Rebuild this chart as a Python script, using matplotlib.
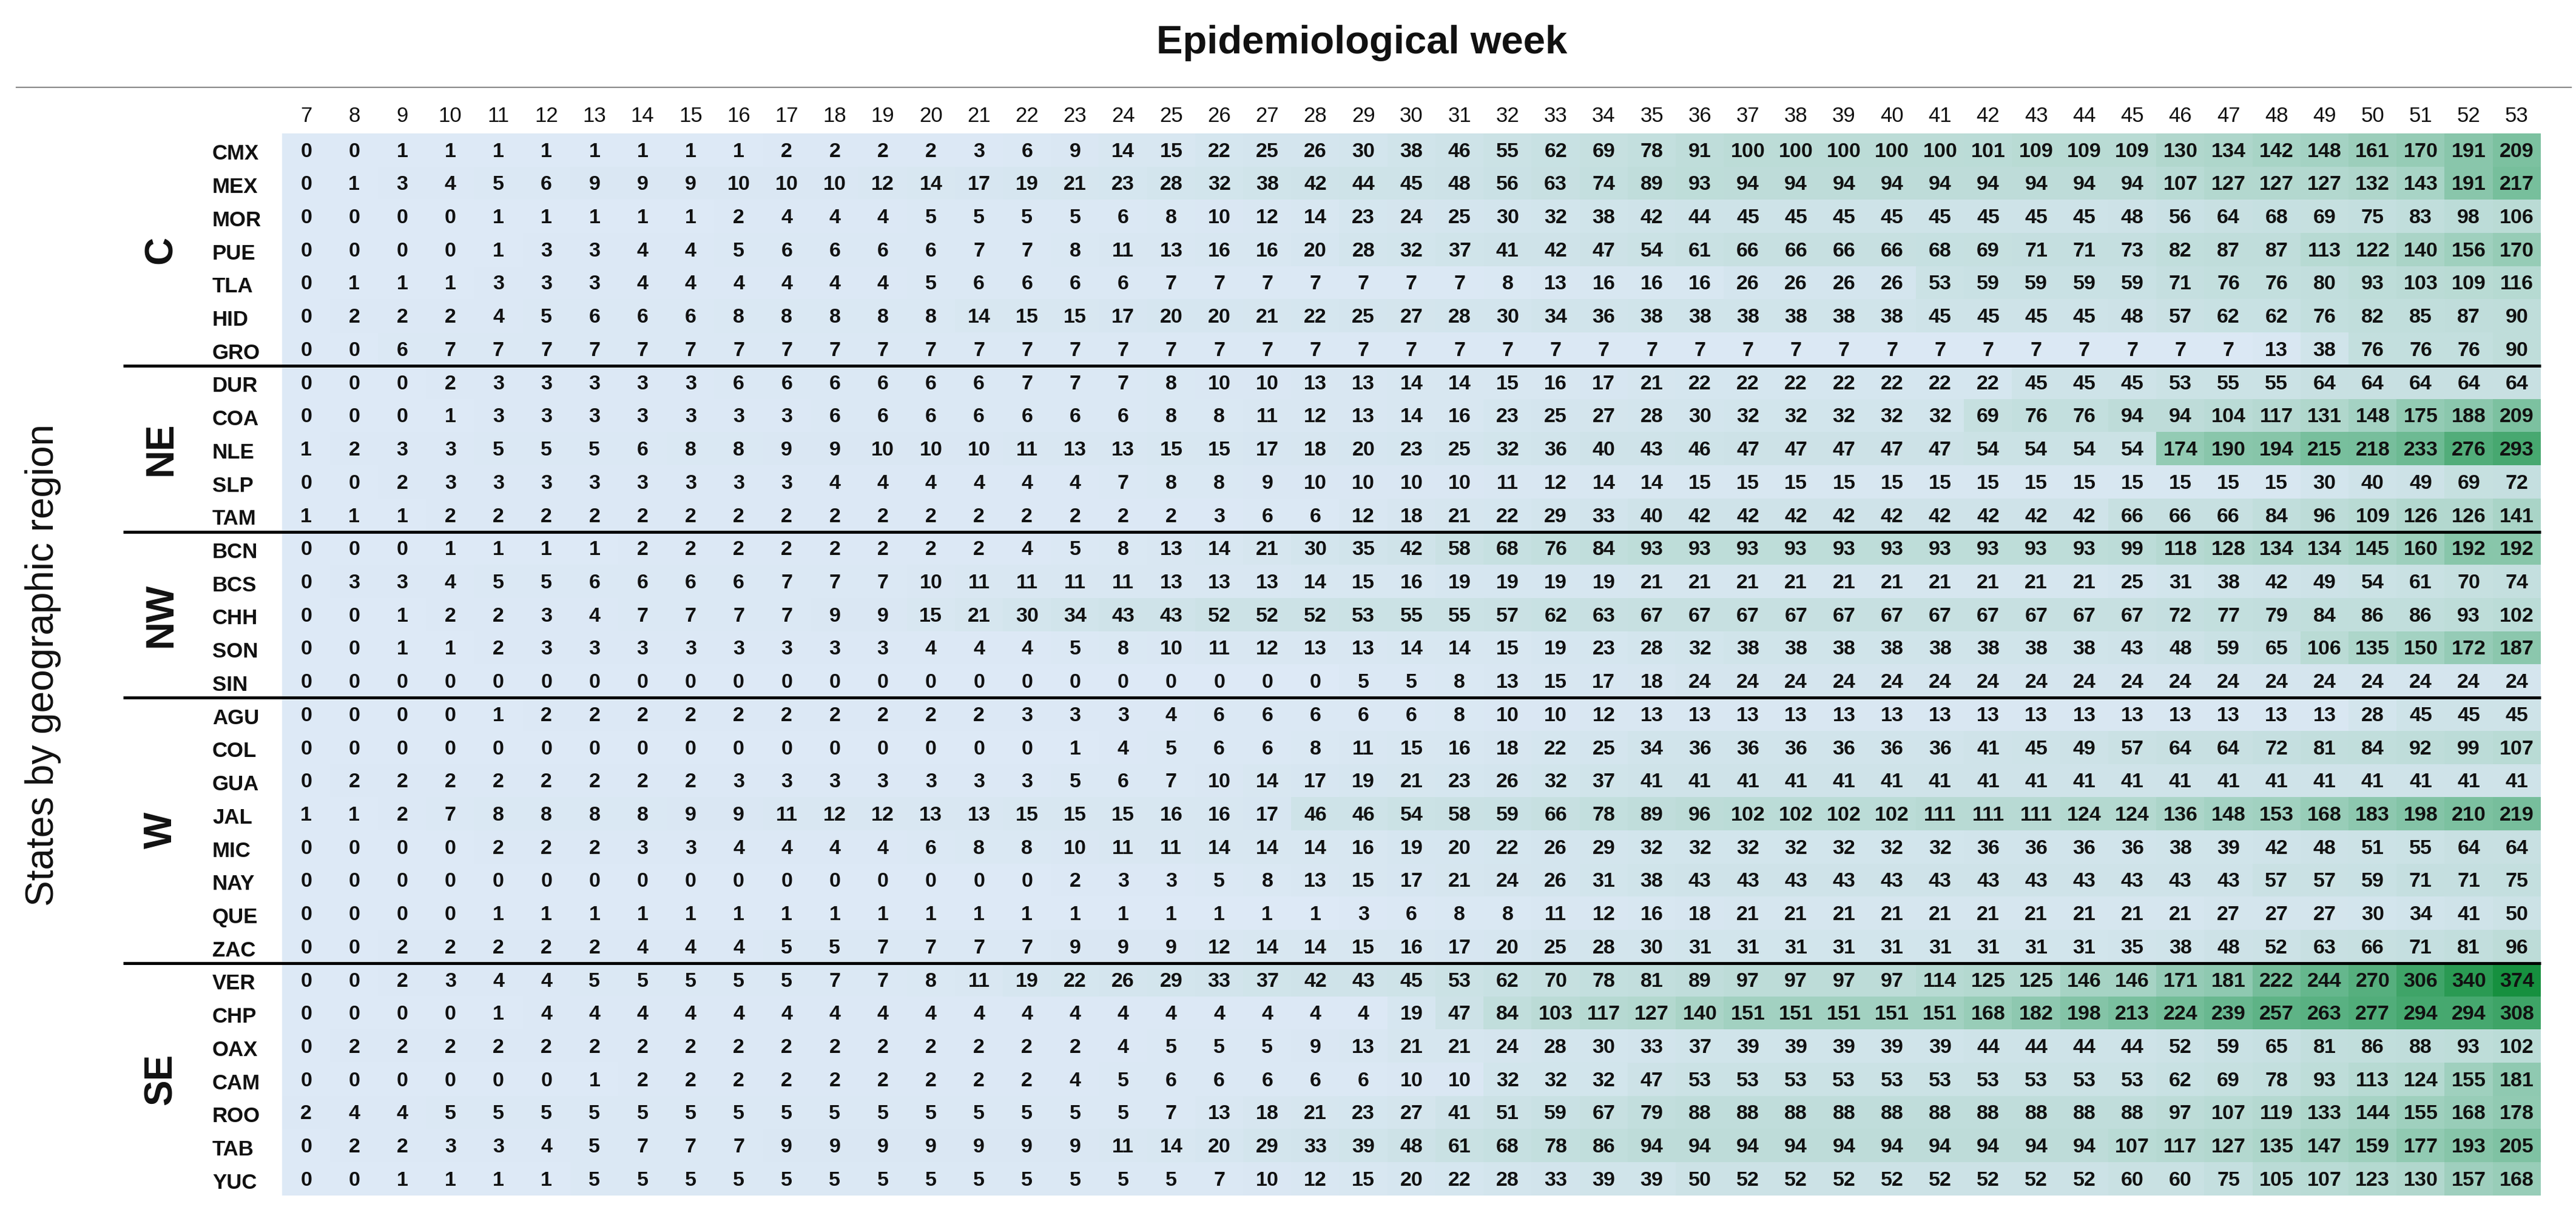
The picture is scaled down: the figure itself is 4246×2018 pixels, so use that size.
import matplotlib
matplotlib.use("Agg")
import matplotlib.pyplot as plt
import matplotlib.transforms as mtransforms
from matplotlib.colors import LinearSegmentedColormap
import numpy as np

plt.rcParams['font.family'] = ['Liberation Sans', 'DejaVu Sans']

weeks = list(range(7, 54))

# cumulative counts per state, weeks 7..53
CMX = [0, 0, 1, 1, 1, 1, 1, 1, 1, 1, 2, 2, 2, 2, 3, 6, 9, 14, 15, 22, 25, 26, 30, 38, 46, 55, 62, 69, 78, 91, 100, 100,
       100, 100, 100, 101, 109, 109, 109, 130, 134, 142, 148, 161, 170, 191, 209]
MEX = [0, 1, 3, 4, 5, 6, 9, 9, 9, 10, 10, 10, 12, 14, 17, 19, 21, 23, 28, 32, 38, 42, 44, 45, 48, 56, 63, 74, 89, 93, 94, 94,
       94, 94, 94, 94, 94, 94, 94, 107, 127, 127, 127, 132, 143, 191, 217]
MOR = [0, 0, 0, 0, 1, 1, 1, 1, 1, 2, 4, 4, 4, 5, 5, 5, 5, 6, 8, 10, 12, 14, 23, 24, 25, 30, 32, 38, 42, 44, 45, 45,
       45, 45, 45, 45, 45, 45, 48, 56, 64, 68, 69, 75, 83, 98, 106]
PUE = [0, 0, 0, 0, 1, 3, 3, 4, 4, 5, 6, 6, 6, 6, 7, 7, 8, 11, 13, 16, 16, 20, 28, 32, 37, 41, 42, 47, 54, 61, 66, 66,
       66, 66, 68, 69, 71, 71, 73, 82, 87, 87, 113, 122, 140, 156, 170]
TLA = [0, 1, 1, 1, 3, 3, 3, 4, 4, 4, 4, 4, 4, 5, 6, 6, 6, 6, 7, 7, 7, 7, 7, 7, 7, 8, 13, 16, 16, 16, 26, 26,
       26, 26, 53, 59, 59, 59, 59, 71, 76, 76, 80, 93, 103, 109, 116]
HID = [0, 2, 2, 2, 4, 5, 6, 6, 6, 8, 8, 8, 8, 8, 14, 15, 15, 17, 20, 20, 21, 22, 25, 27, 28, 30, 34, 36, 38, 38, 38, 38,
       38, 38, 45, 45, 45, 45, 48, 57, 62, 62, 76, 82, 85, 87, 90]
GRO = [0, 0, 6, 7, 7, 7, 7, 7, 7, 7, 7, 7, 7, 7, 7, 7, 7, 7, 7, 7, 7, 7, 7, 7, 7, 7, 7, 7, 7, 7, 7, 7,
       7, 7, 7, 7, 7, 7, 7, 7, 7, 13, 38, 76, 76, 76, 90]
DUR = [0, 0, 0, 2, 3, 3, 3, 3, 3, 6, 6, 6, 6, 6, 6, 7, 7, 7, 8, 10, 10, 13, 13, 14, 14, 15, 16, 17, 21, 22, 22, 22,
       22, 22, 22, 22, 45, 45, 45, 53, 55, 55, 64, 64, 64, 64, 64]
COA = [0, 0, 0, 1, 3, 3, 3, 3, 3, 3, 3, 6, 6, 6, 6, 6, 6, 6, 8, 8, 11, 12, 13, 14, 16, 23, 25, 27, 28, 30, 32, 32,
       32, 32, 32, 69, 76, 76, 94, 94, 104, 117, 131, 148, 175, 188, 209]
NLE = [1, 2, 3, 3, 5, 5, 5, 6, 8, 8, 9, 9, 10, 10, 10, 11, 13, 13, 15, 15, 17, 18, 20, 23, 25, 32, 36, 40, 43, 46, 47, 47,
       47, 47, 47, 54, 54, 54, 54, 174, 190, 194, 215, 218, 233, 276, 293]
SLP = [0, 0, 2, 3, 3, 3, 3, 3, 3, 3, 3, 4, 4, 4, 4, 4, 4, 7, 8, 8, 9, 10, 10, 10, 10, 11, 12, 14, 14, 15, 15, 15,
       15, 15, 15, 15, 15, 15, 15, 15, 15, 15, 30, 40, 49, 69, 72]
TAM = [1, 1, 1, 2, 2, 2, 2, 2, 2, 2, 2, 2, 2, 2, 2, 2, 2, 2, 2, 3, 6, 6, 12, 18, 21, 22, 29, 33, 40, 42, 42, 42,
       42, 42, 42, 42, 42, 42, 66, 66, 66, 84, 96, 109, 126, 126, 141]
BCN = [0, 0, 0, 1, 1, 1, 1, 2, 2, 2, 2, 2, 2, 2, 2, 4, 5, 8, 13, 14, 21, 30, 35, 42, 58, 68, 76, 84, 93, 93, 93, 93,
       93, 93, 93, 93, 93, 93, 99, 118, 128, 134, 134, 145, 160, 192, 192]
BCS = [0, 3, 3, 4, 5, 5, 6, 6, 6, 6, 7, 7, 7, 10, 11, 11, 11, 11, 13, 13, 13, 14, 15, 16, 19, 19, 19, 19, 21, 21, 21, 21,
       21, 21, 21, 21, 21, 21, 25, 31, 38, 42, 49, 54, 61, 70, 74]
CHH = [0, 0, 1, 2, 2, 3, 4, 7, 7, 7, 7, 9, 9, 15, 21, 30, 34, 43, 43, 52, 52, 52, 53, 55, 55, 57, 62, 63, 67, 67, 67, 67,
       67, 67, 67, 67, 67, 67, 67, 72, 77, 79, 84, 86, 86, 93, 102]
SON = [0, 0, 1, 1, 2, 3, 3, 3, 3, 3, 3, 3, 3, 4, 4, 4, 5, 8, 10, 11, 12, 13, 13, 14, 14, 15, 19, 23, 28, 32, 38, 38,
       38, 38, 38, 38, 38, 38, 43, 48, 59, 65, 106, 135, 150, 172, 187]
SIN = [0, 0, 0, 0, 0, 0, 0, 0, 0, 0, 0, 0, 0, 0, 0, 0, 0, 0, 0, 0, 0, 0, 5, 5, 8, 13, 15, 17, 18, 24, 24, 24,
       24, 24, 24, 24, 24, 24, 24, 24, 24, 24, 24, 24, 24, 24, 24]
AGU = [0, 0, 0, 0, 1, 2, 2, 2, 2, 2, 2, 2, 2, 2, 2, 3, 3, 3, 4, 6, 6, 6, 6, 6, 8, 10, 10, 12, 13, 13, 13, 13,
       13, 13, 13, 13, 13, 13, 13, 13, 13, 13, 13, 28, 45, 45, 45]
COL = [0, 0, 0, 0, 0, 0, 0, 0, 0, 0, 0, 0, 0, 0, 0, 0, 1, 4, 5, 6, 6, 8, 11, 15, 16, 18, 22, 25, 34, 36, 36, 36,
       36, 36, 36, 41, 45, 49, 57, 64, 64, 72, 81, 84, 92, 99, 107]
GUA = [0, 2, 2, 2, 2, 2, 2, 2, 2, 3, 3, 3, 3, 3, 3, 3, 5, 6, 7, 10, 14, 17, 19, 21, 23, 26, 32, 37, 41, 41, 41, 41,
       41, 41, 41, 41, 41, 41, 41, 41, 41, 41, 41, 41, 41, 41, 41]
JAL = [1, 1, 2, 7, 8, 8, 8, 8, 9, 9, 11, 12, 12, 13, 13, 15, 15, 15, 16, 16, 17, 46, 46, 54, 58, 59, 66, 78, 89, 96, 102, 102,
       102, 102, 111, 111, 111, 124, 124, 136, 148, 153, 168, 183, 198, 210, 219]
MIC = [0, 0, 0, 0, 2, 2, 2, 3, 3, 4, 4, 4, 4, 6, 8, 8, 10, 11, 11, 14, 14, 14, 16, 19, 20, 22, 26, 29, 32, 32, 32, 32,
       32, 32, 32, 36, 36, 36, 36, 38, 39, 42, 48, 51, 55, 64, 64]
NAY = [0, 0, 0, 0, 0, 0, 0, 0, 0, 0, 0, 0, 0, 0, 0, 0, 2, 3, 3, 5, 8, 13, 15, 17, 21, 24, 26, 31, 38, 43, 43, 43,
       43, 43, 43, 43, 43, 43, 43, 43, 43, 57, 57, 59, 71, 71, 75]
QUE = [0, 0, 0, 0, 1, 1, 1, 1, 1, 1, 1, 1, 1, 1, 1, 1, 1, 1, 1, 1, 1, 1, 3, 6, 8, 8, 11, 12, 16, 18, 21, 21,
       21, 21, 21, 21, 21, 21, 21, 21, 27, 27, 27, 30, 34, 41, 50]
ZAC = [0, 0, 2, 2, 2, 2, 2, 4, 4, 4, 5, 5, 7, 7, 7, 7, 9, 9, 9, 12, 14, 14, 15, 16, 17, 20, 25, 28, 30, 31, 31, 31,
       31, 31, 31, 31, 31, 31, 35, 38, 48, 52, 63, 66, 71, 81, 96]
VER = [0, 0, 2, 3, 4, 4, 5, 5, 5, 5, 5, 7, 7, 8, 11, 19, 22, 26, 29, 33, 37, 42, 43, 45, 53, 62, 70, 78, 81, 89, 97, 97,
       97, 97, 114, 125, 125, 146, 146, 171, 181, 222, 244, 270, 306, 340, 374]
CHP = [0, 0, 0, 0, 1, 4, 4, 4, 4, 4, 4, 4, 4, 4, 4, 4, 4, 4, 4, 4, 4, 4, 4, 19, 47, 84, 103, 117, 127, 140, 151, 151,
       151, 151, 151, 168, 182, 198, 213, 224, 239, 257, 263, 277, 294, 294, 308]
OAX = [0, 2, 2, 2, 2, 2, 2, 2, 2, 2, 2, 2, 2, 2, 2, 2, 2, 4, 5, 5, 5, 9, 13, 21, 21, 24, 28, 30, 33, 37, 39, 39,
       39, 39, 39, 44, 44, 44, 44, 52, 59, 65, 81, 86, 88, 93, 102]
CAM = [0, 0, 0, 0, 0, 0, 1, 2, 2, 2, 2, 2, 2, 2, 2, 2, 4, 5, 6, 6, 6, 6, 6, 10, 10, 32, 32, 32, 47, 53, 53, 53,
       53, 53, 53, 53, 53, 53, 53, 62, 69, 78, 93, 113, 124, 155, 181]
ROO = [2, 4, 4, 5, 5, 5, 5, 5, 5, 5, 5, 5, 5, 5, 5, 5, 5, 5, 7, 13, 18, 21, 23, 27, 41, 51, 59, 67, 79, 88, 88, 88,
       88, 88, 88, 88, 88, 88, 88, 97, 107, 119, 133, 144, 155, 168, 178]
TAB = [0, 2, 2, 3, 3, 4, 5, 7, 7, 7, 9, 9, 9, 9, 9, 9, 9, 11, 14, 20, 29, 33, 39, 48, 61, 68, 78, 86, 94, 94, 94, 94,
       94, 94, 94, 94, 94, 94, 107, 117, 127, 135, 147, 159, 177, 193, 205]
YUC = [0, 0, 1, 1, 1, 1, 5, 5, 5, 5, 5, 5, 5, 5, 5, 5, 5, 5, 5, 7, 10, 12, 15, 20, 22, 28, 33, 39, 39, 50, 52, 52,
       52, 52, 52, 52, 52, 52, 60, 60, 75, 105, 107, 123, 130, 157, 168]

regions = ['C', 'NE', 'NW', 'W', 'SE']
region_states = [
    ['CMX', 'MEX', 'MOR', 'PUE', 'TLA', 'HID', 'GRO'],
    ['DUR', 'COA', 'NLE', 'SLP', 'TAM'],
    ['BCN', 'BCS', 'CHH', 'SON', 'SIN'],
    ['AGU', 'COL', 'GUA', 'JAL', 'MIC', 'NAY', 'QUE', 'ZAC'],
    ['VER', 'CHP', 'OAX', 'CAM', 'ROO', 'TAB', 'YUC'],
]
rows = {'CMX': CMX, 'MEX': MEX, 'MOR': MOR, 'PUE': PUE, 'TLA': TLA, 'HID': HID, 'GRO': GRO,
        'DUR': DUR, 'COA': COA, 'NLE': NLE, 'SLP': SLP, 'TAM': TAM,
        'BCN': BCN, 'BCS': BCS, 'CHH': CHH, 'SON': SON, 'SIN': SIN,
        'AGU': AGU, 'COL': COL, 'GUA': GUA, 'JAL': JAL, 'MIC': MIC, 'NAY': NAY, 'QUE': QUE, 'ZAC': ZAC,
        'VER': VER, 'CHP': CHP, 'OAX': OAX, 'CAM': CAM, 'ROO': ROO, 'TAB': TAB, 'YUC': YUC}

states = [s for grp in region_states for s in grp]
data = np.array([rows[s] for s in states])

W, H = 4246, 2018
fig = plt.figure(figsize=(W / 100, H / 100), dpi=100)

# table area in pixels
left, right, top, bottom = 465, 4188, 220, 1971
ax = fig.add_axes([left / W, 1 - bottom / H, (right - left) / W, (bottom - top) / H])

cmap = LinearSegmentedColormap.from_list('bg', ['#dde9f6', '#b4d9d0', '#63b68b', '#16903f'])
ax.imshow(data, cmap=cmap, vmin=0, vmax=374, aspect='auto', interpolation='nearest')
ax.set_xlim(-0.5, len(weeks) - 0.5)
ax.set_ylim(len(states) - 0.5, -0.5)
ax.axis('off')

for i in range(data.shape[0]):
    for j in range(data.shape[1]):
        ax.text(j, i + 0.05, str(data[i, j]), ha='center', va='center',
                fontsize=24.5, fontweight='bold', color='#111111')

for j, wk in enumerate(weeks):
    ax.text(j, -1.02, str(wk), ha='center', va='center', fontsize=25, color='#111111')

tr = mtransforms.blended_transform_factory(fig.transFigure, ax.transData)
start = 0
for reg, grp in zip(regions, region_states):
    for k, s in enumerate(grp):
        ax.text(350 / W, start + k + 0.12, s, transform=tr, ha='left', va='center',
                fontsize=25, fontweight='bold', color='#111111')
    mid = start + (len(grp) - 1) / 2
    ax.text(266 / W, mid, reg, transform=tr, ha='center', va='center', rotation=90,
            fontsize=46, fontweight='bold', color='#111111')
    start += len(grp)
    if start < len(states):
        ax.plot([203 / W, right / W], [start - 0.5, start - 0.5], transform=tr,
                color='black', lw=3.5, clip_on=False, solid_capstyle='butt')

fig.text(2245 / W, 1 - 88 / H, 'Epidemiological week', ha='center', va='baseline',
         fontsize=47, fontweight='bold', color='#111111')
fig.add_artist(plt.Line2D([27 / W, 0.998], [1 - 144 / H, 1 - 144 / H], color='#8a8a8a', lw=1.6))
fig.text(71 / W, 1 - 1096 / H, 'States by geographic region', ha='center', va='center',
         rotation=90, fontsize=46, color='#111111')

fig.savefig('out.png', dpi=100)
